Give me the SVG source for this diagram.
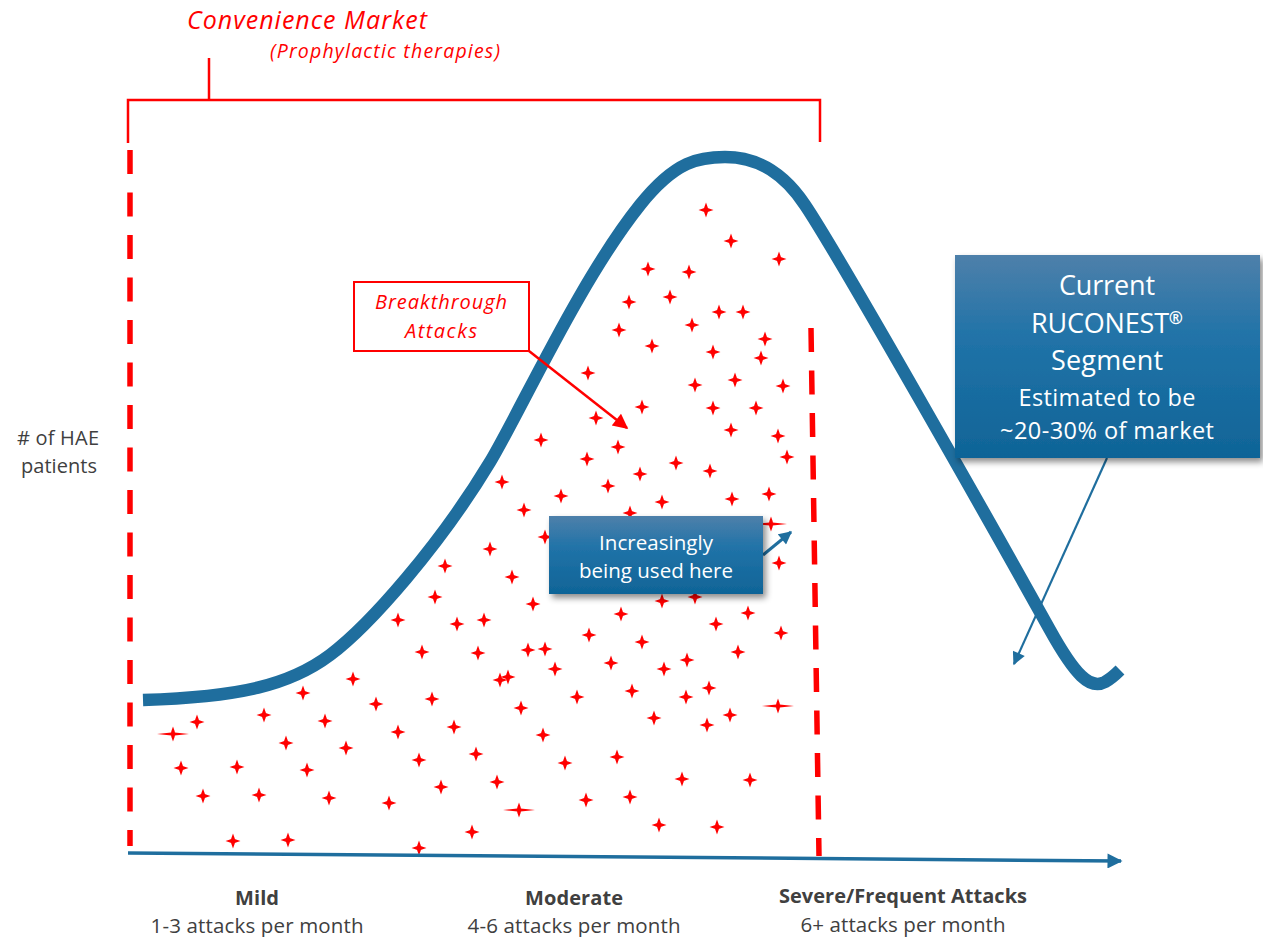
<svg xmlns="http://www.w3.org/2000/svg" xmlns:xlink="http://www.w3.org/1999/xlink" width="1263" height="937" viewBox="0 0 1263 937">
<style>
.red{fill:#FF0000}
.it{font-family:"Open Sans","Liberation Sans",sans-serif;font-style:italic;fill:#FF0000}
.wt{font-family:"Open Sans","Liberation Sans",sans-serif;fill:#FFFFFF;text-anchor:middle}
.gr{font-family:"Open Sans","Liberation Sans",sans-serif;fill:#404040;text-anchor:middle}
.b{font-weight:bold}
.dash{stroke:#FF0000;stroke-width:5.5;fill:none;stroke-dasharray:24 18.5}
.brk{stroke:#FF0000;stroke-width:2.5;fill:none}
</style>
<defs>
<path id="s" d="M0,-7.5 L1.6,-3 L1.9,-1.9 L3,-1.6 L7.5,0 L3,1.6 L1.9,1.9 L1.6,3 L0,7.5 L-1.6,3 L-1.9,1.9 L-3,1.6 L-7.5,0 L-3,-1.6 L-1.9,-1.9 L-1.6,-3Z" fill="#FF0000"/>
<path id="se" d="M0,-7.5 L1.6,-3 L1.9,-1.6 L4,-1.2 L16,0 L4,1.2 L1.9,1.6 L1.6,3 L0,7.5 L-1.6,3 L-1.9,1.6 L-4,1.2 L-16,0 L-4,-1.2 L-1.9,-1.6 L-1.6,-3Z" fill="#FF0000"/>
<linearGradient id="bg" x1="0" y1="0" x2="0" y2="1">
<stop offset="0" stop-color="#4E80AA"/>
<stop offset="0.4" stop-color="#2173A8"/>
<stop offset="1" stop-color="#0F6497"/>
</linearGradient>
<filter id="sh" x="-10%" y="-10%" width="125%" height="135%">
<feDropShadow dx="3" dy="4" stdDeviation="3" flood-color="#000" flood-opacity="0.45"/>
</filter>
<marker id="ar" viewBox="0 0 10 10" refX="9" refY="5" markerUnits="userSpaceOnUse" markerWidth="17" markerHeight="15" orient="auto"><path d="M0,0 L10,5 L0,10Z" fill="#FF0000"/></marker>
<marker id="ab" viewBox="0 0 10 10" refX="9" refY="5" markerUnits="userSpaceOnUse" markerWidth="14" markerHeight="13" orient="auto"><path d="M0,0 L10,5 L0,10Z" fill="#1F6E9E"/></marker>
<marker id="ax" viewBox="0 0 10 10" refX="9" refY="5" markerUnits="userSpaceOnUse" markerWidth="16" markerHeight="15" orient="auto"><path d="M0,0 L10,5 L0,10Z" fill="#1F6E9E"/></marker>
</defs>
<rect width="1263" height="937" fill="#FFFFFF"/>

<g id="stars">
<use href="#s" x="706" y="210"/><use href="#s" x="731" y="241"/><use href="#s" x="779" y="259"/><use href="#s" x="648" y="269"/><use href="#s" x="689" y="272"/><use href="#s" x="629" y="302"/><use href="#s" x="670" y="297"/><use href="#s" x="719" y="312"/><use href="#s" x="743" y="312"/><use href="#s" x="619" y="330"/><use href="#s" x="692" y="325"/><use href="#s" x="652" y="346"/><use href="#s" x="713" y="352"/><use href="#s" x="765" y="339"/><use href="#s" x="761" y="358"/><use href="#s" x="588" y="373"/><use href="#s" x="695" y="385"/><use href="#s" x="735" y="380"/><use href="#s" x="783" y="386"/><use href="#s" x="642" y="407"/><use href="#s" x="713" y="408"/><use href="#s" x="756" y="408"/><use href="#s" x="596" y="418"/>
<use href="#s" x="731" y="430"/><use href="#s" x="778" y="436"/><use href="#s" x="787" y="457"/><use href="#s" x="541" y="440"/><use href="#s" x="618" y="447"/><use href="#s" x="587" y="459"/><use href="#s" x="676" y="463"/><use href="#s" x="710" y="471"/><use href="#s" x="640" y="474"/><use href="#s" x="502" y="482"/><use href="#s" x="608" y="486"/><use href="#s" x="561" y="496"/><use href="#s" x="662" y="502"/><use href="#s" x="732" y="499"/><use href="#s" x="769" y="494"/><use href="#s" x="524" y="510"/><use href="#s" x="630" y="513"/><use href="#s" x="545" y="537"/><use href="#s" x="490" y="549"/><use href="#s" x="779" y="563"/><use href="#s" x="445" y="566"/><use href="#s" x="512" y="577"/>
<use href="#se" x="771" y="524"/>
<use href="#s" x="533" y="604"/><use href="#s" x="662" y="601"/><use href="#s" x="695" y="597"/><use href="#s" x="621" y="614"/><use href="#s" x="748" y="613"/><use href="#s" x="484" y="620"/><use href="#s" x="716" y="624"/><use href="#s" x="781" y="633"/><use href="#s" x="589" y="635"/><use href="#s" x="642" y="642"/><use href="#s" x="478" y="653"/><use href="#s" x="528" y="650"/><use href="#s" x="545" y="649"/><use href="#s" x="738" y="652"/><use href="#s" x="611" y="663"/><use href="#s" x="687" y="660"/><use href="#s" x="555" y="669"/><use href="#s" x="664" y="669"/><use href="#s" x="500" y="680"/><use href="#s" x="508" y="677"/><use href="#s" x="632" y="691"/><use href="#s" x="709" y="688"/><use href="#s" x="577" y="697"/><use href="#s" x="686" y="697"/><use href="#s" x="521" y="708"/><use href="#s" x="730" y="715"/><use href="#s" x="654" y="718"/><use href="#s" x="707" y="725"/><use href="#s" x="543" y="735"/><use href="#s" x="476" y="754"/><use href="#s" x="617" y="757"/><use href="#s" x="565" y="763"/><use href="#s" x="497" y="782"/><use href="#s" x="682" y="779"/><use href="#s" x="750" y="780"/><use href="#s" x="586" y="800"/><use href="#s" x="630" y="797"/><use href="#s" x="659" y="825"/><use href="#s" x="717" y="827"/><use href="#s" x="472" y="832"/>
<use href="#se" x="778" y="706"/><use href="#se" x="519" y="810"/>
<use href="#s" x="435" y="597"/><use href="#s" x="398" y="620"/><use href="#s" x="457" y="624"/><use href="#s" x="422" y="652"/><use href="#s" x="353" y="679"/><use href="#s" x="303" y="693"/><use href="#s" x="376" y="704"/><use href="#s" x="432" y="699"/><use href="#s" x="264" y="715"/><use href="#s" x="325" y="721"/><use href="#s" x="197" y="722"/><use href="#s" x="454" y="727"/><use href="#s" x="286" y="743"/><use href="#s" x="346" y="748"/><use href="#s" x="398" y="732"/><use href="#s" x="419" y="760"/><use href="#s" x="181" y="768"/><use href="#s" x="237" y="767"/><use href="#s" x="307" y="770"/><use href="#s" x="441" y="787"/><use href="#s" x="203" y="796"/><use href="#s" x="259" y="795"/><use href="#s" x="329" y="798"/><use href="#s" x="389" y="803"/><use href="#s" x="233" y="841"/><use href="#s" x="288" y="840"/><use href="#s" x="419" y="848"/>
<use href="#se" x="173" y="734"/>
</g>

<g id="curve">
<path d="M143,700 C240,697 290,685 330,655 C370,625 440,545 490,462 C520,412 580,280 640,205 C676,160 700,157 725,157 C760,157 785,175 805,205 C840,257 1000,540 1050,630 C1075,675 1090,690 1105,682 C1112,678 1117,673 1120,670" fill="none" stroke="#1F6E9E" stroke-width="12.5"/>
</g>

<g id="market-bracket">
<path class="brk" d="M128,143 L128,100 L820,100 L820,142"/>
<path class="brk" d="M209,58 L209,100"/>
<text class="it" x="187" y="29" font-size="25" textLength="240">Convenience Market</text>
<text class="it" x="270" y="58" font-size="19.5" textLength="230">(Prophylactic therapies)</text>
</g>

<g id="dashed-lines">
<path class="dash" d="M130,150 L130,846"/>
<path class="dash" d="M811,328 L819,856"/>
</g>

<g id="y-label">
<text class="gr" x="58" y="445" font-size="20" textLength="82"># of HAE</text>
<text class="gr" x="59" y="473" font-size="20" textLength="76">patients</text>
</g>

<g id="connectors">
<path d="M529,351 L627,428" stroke="#FF0000" stroke-width="2.5" fill="none" marker-end="url(#ar)"/>
<path d="M763,555 L791,532" stroke="#1F6E9E" stroke-width="3" fill="none" marker-end="url(#ab)"/>
<path d="M1107,458 L1014,664" stroke="#1F6E9E" stroke-width="2.2" fill="none" marker-end="url(#ab)"/>
<path d="M128,853 L1121,861" stroke="#1F6E9E" stroke-width="3.5" fill="none" marker-end="url(#ax)"/>
</g>

<g id="breakthrough">
<rect x="354" y="282" width="175" height="69" fill="#FFFFFF" stroke="#FF0000" stroke-width="2"/>
<text class="it" x="441" y="309" font-size="20" text-anchor="middle" textLength="132">Breakthrough</text>
<text class="it" x="441" y="338" font-size="20" text-anchor="middle" textLength="72">Attacks</text>
</g>

<g id="increasingly">
<rect x="549" y="516" width="214" height="78" fill="url(#bg)" filter="url(#sh)"/>
<text class="wt" x="656" y="550" font-size="20.5" textLength="114">Increasingly</text>
<text class="wt" x="656" y="578" font-size="20.5" textLength="154">being used here</text>
</g>

<g id="ruconest">
<rect x="955" y="255" width="305" height="203" fill="url(#bg)" filter="url(#sh)"/>
<text class="wt" x="1107" y="295" font-size="27" textLength="96">Current</text>
<text class="wt" x="1107" y="333" font-size="27" textLength="152">RUCONEST<tspan font-size="17" font-weight="bold" dy="-9">®</tspan></text>
<text class="wt" x="1107" y="370" font-size="27" textLength="112">Segment</text>
<text class="wt" x="1107" y="406" font-size="23.5" textLength="177">Estimated to be</text>
<text class="wt" x="1107" y="439" font-size="23.5" textLength="214">~20-30% of market</text>
</g>

<g id="mild">
<text class="gr b" x="257" y="905" font-size="20" textLength="44">Mild</text>
<text class="gr" x="257" y="933" font-size="20.5" textLength="213">1-3 attacks per month</text>
</g>
<g id="moderate">
<text class="gr b" x="574" y="905" font-size="20" textLength="98">Moderate</text>
<text class="gr" x="574" y="933" font-size="20.5" textLength="213">4-6 attacks per month</text>
</g>
<g id="severe">
<text class="gr b" x="903" y="903" font-size="20" textLength="248">Severe/Frequent Attacks</text>
<text class="gr" x="903" y="932" font-size="20.5" textLength="205">6+ attacks per month</text>
</g>
</svg>
